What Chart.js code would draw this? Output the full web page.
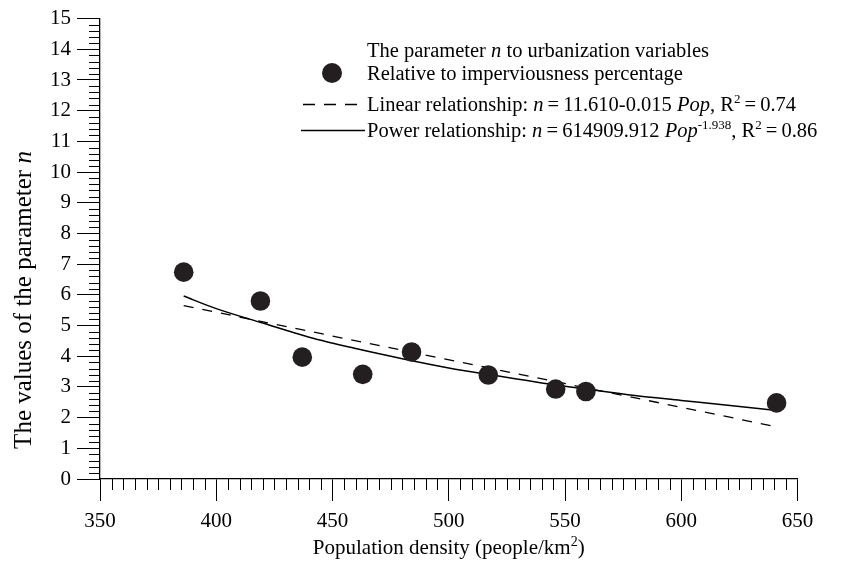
<!DOCTYPE html>
<html>
<head>
<meta charset="utf-8">
<script src="https://cdn.jsdelivr.net/npm/chart.js@4"></script>
<style>
  body { margin: 0; background: #fff; }
  #wrap { width: 843px; height: 564px; }
</style>
</head>
<body>
<div id="wrap"><canvas id="chart" width="843" height="564"></canvas></div>
<script>
// observed points (population density vs parameter n)
const popDensity = [386, 419, 437, 463, 484, 517, 546, 559, 641];
const paramN = [6.74, 5.80, 3.97, 3.41, 4.14, 3.39, 2.93, 2.85, 2.48];

// fitted lines
const linearX = [386, 641];
const linearN = [5.65, 1.70];
const powerX = [386, 400, 420, 440, 460, 480, 500, 520, 540, 560, 580, 600, 620, 641];
const powerN = [5.96, 5.55, 5.08, 4.62, 4.25, 3.92, 3.62, 3.37, 3.13, 2.92, 2.72, 2.56, 2.40, 2.23];

const xTicks = [350, 400, 450, 500, 550, 600, 650];
const yTicks = [0, 1, 2, 3, 4, 5, 6, 7, 8, 9, 10, 11, 12, 13, 14, 15];

const FONT = '"Liberation Serif", "Times New Roman", serif';
const INK = '#231f20';

function toXY(xs, ys) {
  return xs.map((x, i) => ({ x: x, y: ys[i] }));
}

// draws a run of text pieces, some italic, some superscript
function richWidth(ctx, parts, size) {
  let w = 0;
  parts.forEach(p => {
    const fs = p.sup ? Math.round(size * 0.65) : size;
    ctx.font = (p.it ? 'italic ' : '') + fs + 'px ' + FONT;
    w += ctx.measureText(p.t).width;
  });
  return w;
}
function drawRich(ctx, x, y, parts, size) {
  parts.forEach(p => {
    const fs = p.sup ? Math.round(size * 0.65) : size;
    ctx.font = (p.it ? 'italic ' : '') + fs + 'px ' + FONT;
    ctx.fillText(p.t, x, y + (p.sup ? -size * 0.38 : 0));
    x += ctx.measureText(p.t).width;
  });
  return x;
}

const EQ = '\u2009=\u2009';

const decorations = {
  id: 'decorations',
  afterDraw(chart) {
    const ctx = chart.ctx;
    const xs = chart.scales.x, ys = chart.scales.y;
    const area = chart.chartArea;
    ctx.save();
    ctx.strokeStyle = '#000';
    ctx.lineWidth = 1;

    // minor ticks
    ctx.beginPath();
    for (let v = 355; v < 650; v += 5) {
      if (v % 50 === 0) continue;
      const px = Math.round(xs.getPixelForValue(v)) + 0.5;
      ctx.moveTo(px, area.bottom);
      ctx.lineTo(px, area.bottom + 11);
    }
    for (let i = 1; i < 75; i++) {
      if (i % 5 === 0) continue;
      const py = Math.round(ys.getPixelForValue(i / 5)) + 0.5;
      ctx.moveTo(area.left - 11, py);
      ctx.lineTo(area.left, py);
    }
    ctx.stroke();

    ctx.fillStyle = '#000';
    ctx.textBaseline = 'alphabetic';
    ctx.textAlign = 'left';

    // x title
    const xParts = [{ t: 'Population density (people/km' }, { t: '2', sup: true }, { t: ')' }];
    const xw = richWidth(ctx, xParts, 21);
    drawRich(ctx, (area.left + area.right) / 2 - xw / 2, 554, xParts, 21);

    // y title
    const yParts = [{ t: 'The values of the parameter ' }, { t: 'n', it: true }];
    const yw = richWidth(ctx, yParts, 25);
    ctx.save();
    ctx.translate(31, 300);
    ctx.rotate(-Math.PI / 2);
    drawRich(ctx, -yw / 2, 0, yParts, 25);
    ctx.restore();

    // legend
    const lx = 367, fs = 20.5;
    drawRich(ctx, lx, 57, [{ t: 'The parameter ' }, { t: 'n', it: true }, { t: ' to urbanization variables' }], fs);

    ctx.fillStyle = INK;
    ctx.beginPath();
    ctx.arc(332, 73, 10, 0, Math.PI * 2);
    ctx.fill();
    ctx.fillStyle = '#000';
    drawRich(ctx, lx, 80, [{ t: 'Relative to imperviousness percentage' }], fs);

    ctx.lineWidth = 1.3;
    ctx.setLineDash([12, 9]);
    ctx.beginPath();
    ctx.moveTo(303, 104.5);
    ctx.lineTo(365, 104.5);
    ctx.stroke();
    ctx.setLineDash([]);
    drawRich(ctx, lx, 111, [
      { t: 'Linear relationship: ' }, { t: 'n', it: true }, { t: EQ + '11.610-0.015 ' },
      { t: 'Pop', it: true }, { t: ', R' }, { t: '2', sup: true }, { t: EQ + '0.74' }
    ], fs);

    ctx.beginPath();
    ctx.moveTo(301, 130.5);
    ctx.lineTo(365, 130.5);
    ctx.stroke();
    drawRich(ctx, lx, 137, [
      { t: 'Power relationship: ' }, { t: 'n', it: true }, { t: EQ + '614909.912 ' },
      { t: 'Pop', it: true }, { t: '-1.938', sup: true }, { t: ', R' }, { t: '2', sup: true }, { t: EQ + '0.86' }
    ], fs);

    ctx.restore();
  }
};

new Chart(document.getElementById('chart'), {
  type: 'scatter',
  data: {
    datasets: [
      {
        label: 'Relative to imperviousness percentage',
        data: toXY(popDensity, paramN),
        pointRadius: 9.8,
        pointBackgroundColor: INK,
        pointBorderWidth: 0,
        showLine: false,
        order: 0
      },
      {
        label: 'Linear relationship',
        data: toXY(linearX, linearN),
        showLine: true,
        borderColor: '#000',
        borderWidth: 1.3,
        borderDash: [10, 9],
        pointRadius: 0,
        order: 1
      },
      {
        label: 'Power relationship',
        data: toXY(powerX, powerN),
        showLine: true,
        borderColor: '#000',
        borderWidth: 1.5,
        cubicInterpolationMode: 'monotone',
        pointRadius: 0,
        order: 2
      }
    ]
  },
  options: {
    responsive: false,
    animation: false,
    layout: { padding: { left: 0, top: 14, right: 45.5, bottom: 0 } },
    plugins: {
      legend: { display: false },
      tooltip: { enabled: false }
    },
    scales: {
      x: {
        type: 'linear',
        min: 350,
        max: 650,
        afterFit: s => { s.height = 85; },
        afterBuildTicks: s => { s.ticks = xTicks.map(v => ({ value: v })); },
        grid: { drawOnChartArea: false, tickLength: 22, color: '#000', lineWidth: 1 },
        border: { color: '#000', width: 1.3 },
        ticks: { color: '#000', padding: 8, font: { family: FONT, size: 21 }, maxRotation: 0 }
      },
      y: {
        type: 'linear',
        min: 0,
        max: 15,
        afterFit: s => { s.width = 100; },
        afterBuildTicks: s => { s.ticks = yTicks.map(v => ({ value: v })); },
        grid: { drawOnChartArea: false, tickLength: 23, color: '#000', lineWidth: 1 },
        border: { color: '#000', width: 1.3 },
        ticks: { color: '#000', padding: 6, font: { family: FONT, size: 21 } }
      }
    }
  },
  plugins: [decorations]
});
</script>
</body>
</html>
